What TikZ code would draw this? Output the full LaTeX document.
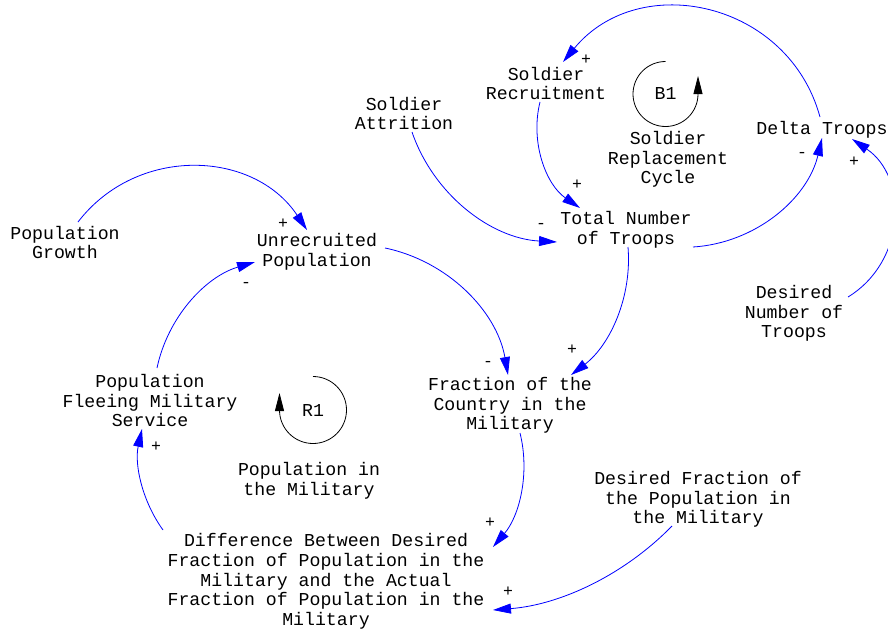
\documentclass[tikz,border=0pt]{standalone}
\usepackage{fontspec}
\newfontfamily\cour{Liberation Mono}
\usetikzlibrary{arrows.meta}
\begin{document}
\begin{tikzpicture}[x=1pt,y=1pt,
  lbl/.style={font=\cour\fontsize{18.2}{19.7}\selectfont, align=center, inner sep=0pt, yshift=-1.5pt},
  sgn/.style={font=\cour\fontsize{16.5}{16.5}\selectfont, inner sep=0pt},
  link/.style={draw={rgb,255:red,0;green,0;blue,255}, line width=0.8pt, -{Triangle[length=18pt,width=10pt]}},
  loopline/.style={draw=black, line width=0.8pt, -{Triangle[length=18pt,width=9pt]}}]
\useasboundingbox (0,0) rectangle (888,-629);
\fill[white] (0,0) rectangle (888,-629);

% variables
\node[lbl] (recruit) at (546,-82) {Soldier\\Recruitment};
\node[lbl] (replace) at (668,-158) {Soldier\\Replacement\\Cycle};
\node[lbl] (delta) at (822,-128) {Delta Troops};
\node[lbl] (attrition) at (404,-112) {Soldier\\Attrition};
\node[lbl] (total) at (626,-228) {Total Number\\of Troops};
\node[lbl] (desnum) at (794,-312) {Desired\\Number of\\Troops};
\node[lbl] (growth) at (65,-241) {Population\\Growth};
\node[lbl] (unrec) at (317,-250) {Unrecruited\\Population};
\node[lbl] (flee) at (150,-399) {Population\\Fleeing Military\\Service};
\node[lbl] (popmil) at (309,-479) {Population in\\the Military};
\node[lbl] (fraction) at (510,-404) {Fraction of the\\Country in the\\Military};
\node[lbl] (diff) at (326,-580) {Difference Between Desired\\Fraction of Population in the\\Military and the Actual\\Fraction of Population in the\\Military};
\node[lbl] (desfrac) at (698,-498) {Desired Fraction of\\the Population in\\the Military};
\node[lbl,yshift=1.5pt] (b1) at (665.5,-94) {B1};
\node[lbl,yshift=1.5pt] (r1) at (313,-410) {R1};

% loop markers
\draw[loopline] ([shift={(90:32.5)}]b1.center) arc[start angle=90,end angle=360,radius=32.5] -- ++(0,18);
\draw[loopline] ([shift={(90:33.5)}]r1.center) arc[start angle=90,end angle=-180,radius=33.5] -- ++(0,17);

% connectors
\draw[link] ([shift={(-2,12.5)}]delta.center) .. controls +(-31.7,115.9) and +(76.2,92.4) .. ([shift={(17,21.5)}]recruit.center);
\draw[link] ([shift={(-6,-18.5)}]recruit.center) .. controls +(-10,-40.2) and +(-34.1,23.5) .. ([shift={(-46,21.5)}]total.center);
\draw[link] ([shift={(8,-18.5)}]attrition.center) .. controls +(21.5,-62.6) and +(-66.1,3.6) .. ([shift={(-69,-12.5)}]total.center);
\draw[link] ([shift={(67,-17.5)}]total.center) .. controls +(62.4,3.9) and +(-14.3,-60.8) .. ([shift={(0,-8.5)}]delta.center);
\draw[link] ([shift={(54,16.5)}]desnum.center) .. controls +(58.3,35.7) and +(56.5,-38.4) .. ([shift={(30,-9.5)}]delta.center);
\draw[link] ([shift={(13,20.5)}]growth.center) .. controls +(58.8,76.6) and +(-53.6,80.4) .. ([shift={(-10,21.5)}]unrec.center);
\draw[link] ([shift={(7,32.5)}]flee.center) .. controls +(10.7,50.7) and +(-49.7,-14.7) .. ([shift={(-62,-10.5)}]unrec.center);
\draw[link] ([shift={(68,3.5)}]unrec.center) .. controls +(63.1,-13.1) and +(-11.1,63.5) .. ([shift={(-2,30.5)}]fraction.center);
\draw[link] ([shift={(2,-17.5)}]total.center) .. controls +(4.1,-49.6) and +(39.4,30.3) .. ([shift={(61,30.5)}]fraction.center);
\draw[link] ([shift={(10,-27.5)}]fraction.center) .. controls +(10,-40.1) and +(26.7,31.5) .. ([shift={(167,34.5)}]diff.center);
\draw[link] ([shift={(-163,51.5)}]diff.center) .. controls +(-21,29.2) and +(-7.7,-35.2) .. ([shift={(-8,-28.5)}]flee.center);
\draw[link] ([shift={(-26,-26.5)}]desfrac.center) .. controls +(-47.5,-48.7) and +(67.8,5.3) .. ([shift={(167,-28.5)}]diff.center);

% polarities
\node[sgn] (s1) at (586,-60) {+};
\node[sgn] (s2) at (577,-185) {+};
\node[sgn] (s3) at (541,-225.5) {-};
\node[sgn] (s4) at (802,-154.5) {-};
\node[sgn] (s5) at (854,-162) {+};
\node[sgn] (s6) at (283,-224) {+};
\node[sgn] (s7) at (246,-284.5) {-};
\node[sgn] (s8) at (488,-363.5) {-};
\node[sgn] (s9) at (572,-350) {+};
\node[sgn] (s10) at (490,-523) {+};
\node[sgn] (s11) at (156,-447) {+};
\node[sgn] (s12) at (508,-592) {+};
\end{tikzpicture}
\end{document}
